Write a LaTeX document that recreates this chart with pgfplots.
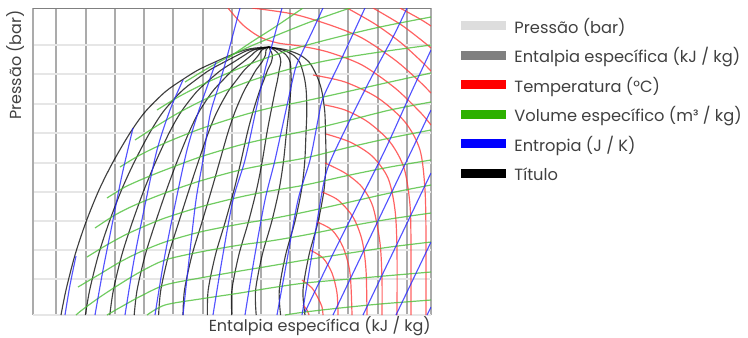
\documentclass[border=0pt]{standalone}
\usepackage{fontspec}
\setmainfont{Poppins}
\usepackage{pgfplots}
\pgfplotsset{compat=1.18}
\definecolor{txt}{HTML}{404040}
\definecolor{vgrid}{HTML}{ABABAB}
\definecolor{hgrid}{HTML}{E6E6E6}
\definecolor{lgray}{HTML}{DDDDDD}
\definecolor{mgray}{HTML}{808080}
\definecolor{lred}{HTML}{FF0000}
\definecolor{lgreen}{HTML}{2DB000}
\definecolor{lblue}{HTML}{0000FF}
\definecolor{cred}{HTML}{FF3B3B}
\definecolor{cgreen}{HTML}{4DBF3A}
\definecolor{cblue}{HTML}{2828FF}
\begin{document}
\begin{tikzpicture}
\path[use as bounding box] (0pt,0pt) rectangle (561pt,-252.75pt);
\begin{axis}[
  at={(24.75pt,-236.25pt)}, anchor=south west,
  scale only axis, width=298.5pt, height=230.25pt,
  xmin=33, xmax=431, ymin=8, ymax=315, y dir=reverse,
  axis line style={draw=none}, tick style={draw=none},
  xtick={56,86,115,144,173,203,232,261,290,319,348,378,407,431},
  ytick={45,74,104,133,163,192,221,250,279},
  xticklabels={}, yticklabels={},
  major tick length=0pt,
  grid=major,
  x grid style={vgrid, line width=0.8pt},
  y grid style={hgrid, line width=1.1pt},
  extra x ticks={33}, extra x tick labels={},
  extra x tick style={grid=major, major grid style={black!70, line width=1pt}},
  extra y ticks={315}, extra y tick labels={},
  extra y tick style={grid=major, major grid style={black!70, line width=1pt}},
  clip=true,
  every axis label/.append style={font=\fontsize{12}{14}\selectfont, text=txt, inner sep=0pt},
  xlabel={Entalpia específica (kJ / kg)},
  xlabel style={at={(axis description cs:1,0)}, anchor=north east, yshift=-1pt},
  ylabel={Pressão (bar)},
  ylabel style={at={(axis description cs:-0.0201,0.9935)}, anchor=south east},
  legend style={draw=none, fill=none, at={(axis description cs:1.0754,0.9577)}, anchor=north west,
    font=\fontsize{12.2}{14}\selectfont, text=txt, row sep=9.9pt, column sep=6.5pt, inner sep=0pt,
    nodes={text height=9pt, text depth=3pt, inner sep=0pt}},
  legend cell align=left,
  blk/.style={black, opacity=0.75, line width=0.85pt, smooth, tension=0.5},
  rd/.style={cred, opacity=0.8, line width=0.9pt, smooth, tension=0.5},
  gr/.style={cgreen, opacity=0.8, line width=0.9pt, smooth, tension=0.5},
  bl/.style={cblue, opacity=0.8, line width=0.85pt, smooth, tension=0.5},
]
\addlegendimage{legend image code/.code={\fill[lgray] (0pt,0pt) rectangle (33pt,6pt);}}
\addlegendentry{Pressão (bar)}
\addlegendimage{legend image code/.code={\fill[mgray] (0pt,0pt) rectangle (33pt,6pt);}}
\addlegendentry{Entalpia específica (kJ / kg)}
\addlegendimage{legend image code/.code={\fill[lred] (0pt,0pt) rectangle (33pt,6pt);}}
\addlegendentry{Temperatura (°C)}
\addlegendimage{legend image code/.code={\fill[lgreen] (0pt,0pt) rectangle (33pt,6pt);}}
\addlegendentry{Volume específico (m³ / kg)}
\addlegendimage{legend image code/.code={\fill[lblue] (0pt,0pt) rectangle (33pt,6pt);}}
\addlegendentry{Entropia (J / K)}
\addlegendimage{legend image code/.code={\fill[black] (0pt,0pt) rectangle (33pt,6pt);}}
\addlegendentry{Título}

\addplot[gray, line width=0.8pt, forget plot] coordinates {(33,8) (431,8)};

% Titulo (quality lines)
\addplot[blk, forget plot] coordinates {(269,47)(255,48)(245,50)(231,55)(215,62)(198,70)(182,80)(165,92)(145,112)(130,133)(113,162)(99,190)(86,222)(75,255)(66,290)(61,315)};
\addplot[blk, forget plot] coordinates {(269,47)(276,48)(287,50)(300,55)(309,62)(314,70)(318.5,80)(322,92)(324.8,112)(325.5,133)(326,162)(324,190)(318,222)(309,255)(303,290)(305,315)};
\addplot[blk, forget plot] coordinates {(269,47)(249.2,50)(237.9,55)(224.4,62)(209.6,70)(195.6,80)(180.7,92)(163,112)(149.6,133)(134.3,162)(121.5,190)(109.2,222)(98.4,255)(89.7,290)(85.4,315)};
\addplot[blk, forget plot] coordinates {(269,47)(253.4,50)(244.8,55)(233.8,62)(221.2,70)(209.3,80)(196.4,92)(181,112)(169.1,133)(155.6,162)(144,190)(132.4,222)(121.8,255)(113.4,290)(109.8,315)};
\addplot[blk, forget plot] coordinates {(269,47)(257.6,50)(251.7,55)(243.2,62)(232.8,70)(223,80)(212.1,92)(198.9,112)(188.7,133)(176.9,162)(166.5,190)(155.6,222)(145.2,255)(137.1,290)(134.2,315)};
\addplot[blk, forget plot] coordinates {(269,47)(261.8,50)(258.6,55)(252.6,62)(244.4,70)(236.6,80)(227.8,92)(216.9,112)(208.2,133)(198.2,162)(189,190)(178.8,222)(168.6,255)(160.8,290)(158.6,315)};
\addplot[blk, forget plot] coordinates {(269,47)(266,50)(265.5,55)(262,62)(256,70)(250.2,80)(243.5,92)(234.9,112)(227.8,133)(219.5,162)(211.5,190)(202,222)(192,255)(184.5,290)(183,315)};
\addplot[blk, forget plot] coordinates {(269,47)(270.2,50)(272.4,55)(271.4,62)(267.6,70)(263.9,80)(259.2,92)(252.9,112)(247.3,133)(240.8,162)(234,190)(225.2,222)(215.4,255)(208.2,290)(207.4,315)};
\addplot[blk, forget plot] coordinates {(269,47)(274.4,50)(279.3,55)(280.8,62)(279.2,70)(277.5,80)(274.9,92)(270.9,112)(266.9,133)(262.1,162)(256.5,190)(248.4,222)(238.8,255)(231.9,290)(231.8,315)};
\addplot[blk, forget plot] coordinates {(269,47)(278.6,50)(286.2,55)(290.2,62)(290.8,70)(291.2,80)(290.6,92)(288.8,112)(286.4,133)(283.4,162)(279,190)(271.6,222)(262.2,255)(255.6,290)(256.2,315)};
\addplot[blk, forget plot] coordinates {(269,47)(282.8,50)(293.1,55)(299.6,62)(302.4,70)(304.8,80)(306.3,92)(306.8,112)(306,133)(304.7,162)(301.5,190)(294.8,222)(285.6,255)(279.3,290)(280.6,315)};

% Temperatura (isotherms)
\addplot[rd, forget plot] coordinates {(303,305)(307,310)(309,315)};
\addplot[rd, forget plot] coordinates {(302,280)(312,288)(318,298)(322,307)(323,315)};
\addplot[rd, forget plot] coordinates {(310,250)(323,258)(332,273)(337,293)(338,315)};
\addplot[rd, forget plot] coordinates {(317,222)(332,230)(343,247)(350,273)(352,315)};
\addplot[rd, forget plot] coordinates {(322,192)(338,200)(353,217)(362,240)(366,270)(367,315)};
\addplot[rd, forget plot] coordinates {(325,163)(345,173)(362,187)(373,207)(380,243)(382,280)(382,315)};
\addplot[rd, forget plot] coordinates {(326,134)(350,142)(372,156)(388,178)(395,210)(397,250)(397,315)};
\addplot[rd, forget plot] coordinates {(325,105)(345,110)(368,122)(390,142)(404,168)(410,205)(411,250)(411,315)};
\addplot[rd, forget plot] coordinates {(313,75)(345,82)(378,98)(405,122)(420,150)(425,190)(426,240)(426,315)};
\addplot[rd, forget plot] coordinates {(228,8)(243,25)(260,37)(278,43)(300,46)(328,52)(362,65)(395,88)(420,112)(431,125)};
\addplot[rd, forget plot] coordinates {(252,8)(293,14)(330,25)(362,38)(395,60)(418,80)(431,93)};
\addplot[rd, forget plot] coordinates {(347,8)(375,24)(400,42)(420,60)(431,71)};
\addplot[rd, forget plot] coordinates {(373,8)(400,24)(420,39)(431,48)};
\addplot[rd, forget plot] coordinates {(400,8)(420,19)(431,26)};

% Volume especifico (isochores)
\addplot[gr, forget plot] coordinates {(228,58)(250,43)(275,27)(303,8)};
\addplot[gr, forget plot] coordinates {(185,82)(210,67)(240,51)(270,38)(310,22)(350,8)};
\addplot[gr, forget plot] coordinates {(157,110)(180,96)(210,81)(250,64)(290,50)(330,39)(380,27)(431,17)};
\addplot[gr, forget plot] coordinates {(135,140)(155,127)(180,112)(210,97)(250,81)(290,69)(330,60)(380,52)(431,45)};
\addplot[gr, forget plot] coordinates {(120,167)(140,155)(165,143)(200,129)(240,116)(270,108)(305,101)(350,91)(390,82)(431,73)};
\addplot[gr, forget plot] coordinates {(107,198)(125,187)(145,178)(165,170)(200,157)(240,145)(270,138)(305,131)(350,120)(390,110)(431,102)};
\addplot[gr, forget plot] coordinates {(95,228)(115,215)(135,205)(165,193)(200,181)(240,170)(270,164)(305,158)(350,147)(390,138)(431,130)};
\addplot[gr, forget plot] coordinates {(87,257)(105,246)(125,235)(145,226)(165,218)(200,207)(240,197)(270,191)(305,185)(350,175)(390,167)(431,160)};
\addplot[gr, forget plot] coordinates {(78,287)(100,274)(120,262)(140,252)(165,242)(200,232)(240,224)(270,219)(305,212)(350,202)(390,193)(431,185)};
\addplot[gr, forget plot] coordinates {(76,315)(82,310)(100,297)(120,284)(140,272)(165,260)(200,252)(240,245)(270,241)(305,235)(350,226)(390,219)(431,213)};
\addplot[gr, forget plot] coordinates {(107,315)(120,307.5)(140,296.5)(165,285)(200,278)(240,271)(270,266)(305,260)(350,253)(390,247)(431,242)};
\addplot[gr, forget plot] coordinates {(147,315)(165,305)(200,299)(240,293)(270,288)(305,283)(350,279)(390,275.5)(431,272)};
\addplot[gr, forget plot] coordinates {(285,315)(305,312)(340,308)(380,304)(431,300)};

% Entropia (isentropes)
\addplot[bl, forget plot] coordinates {(65,315)(70,285)(76,256)};
\addplot[bl, forget plot] coordinates {(95,315)(103,270)(112,225)(122,175)(133,128)};
\addplot[bl, forget plot] coordinates {(125,315)(134,260)(145,205)(157,150)(170,110)(183,80)};
\addplot[bl, forget plot] coordinates {(155,315)(164,260)(175,205)(187,150)(199,110)(216,62)};
\addplot[bl, forget plot] coordinates {(183,315)(189,260)(196,200)(203,160)(210,115)(219,85)(227,57)(240,8)};
\addplot[bl, forget plot] coordinates {(213,315)(222,260)(233,200)(245,160)(256,110)(265,70)(272,45)(282,8)};
\addplot[bl, forget plot] coordinates {(245,315)(254,260)(265,200)(275,160)(286,110)(295,70)(301,55)(312,32)(323,8)};
\addplot[bl, forget plot] coordinates {(277,315)(287,260)(298,200)(310,160)(318,120)(323,98)(340,62)(365,8)};
\addplot[bl, forget plot] coordinates {(302,315)(311,260)(319,210)(327,170)(345,130)(370,80)(394,35)(407,8)};
\addplot[bl, forget plot] coordinates {(305,312)(330,260)(355,210)(385,150)(410,95)(431,50)};
\addplot[bl, forget plot] coordinates {(333,315)(431,110)};
\addplot[bl, forget plot] coordinates {(363,315)(431,173)};
\addplot[bl, forget plot] coordinates {(396,315)(431,242)};
\addplot[bl, forget plot] coordinates {(427,315)(431,307)};
\end{axis}
\end{tikzpicture}
\end{document}
